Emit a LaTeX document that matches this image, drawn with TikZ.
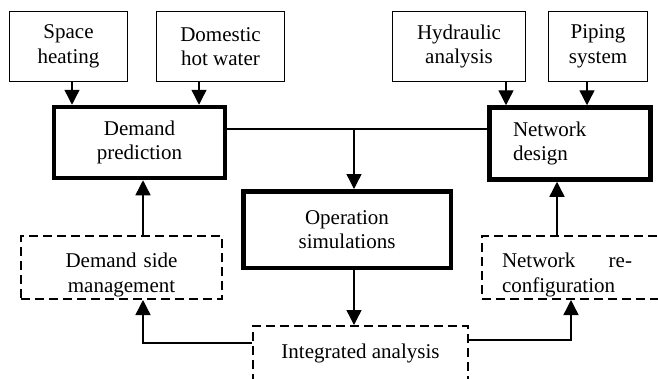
\documentclass[tikz,border=0pt]{standalone}
\usepackage{fontspec}
\setmainfont{Liberation Serif}
\usetikzlibrary{arrows.meta}

\begin{document}
\begin{tikzpicture}[
  x=1pt, y=-1pt,
  inbox/.style={draw, line width=1pt, inner sep=0pt, align=center,
                font=\fontsize{21}{24.5}\selectfont},
  mainbox/.style={draw, line width=4.5pt, inner sep=0pt, align=center,
                  font=\fontsize{21}{24.5}\selectfont},
  optbox/.style={draw, line width=2pt, dash pattern=on 9pt off 5pt, inner sep=0pt,
                 align=center, font=\fontsize{21}{24.5}\selectfont},
  arrow/.style={-{Triangle[length=15pt, width=15pt]}, line width=1.4pt},
  link/.style={line width=1.4pt}
]
\useasboundingbox (0,0) rectangle (658,378);

% Inputs
\node[inbox, minimum width=118pt, minimum height=70pt] (heat) at (68.5,46.5) {Space\\heating};
\node[inbox, minimum width=128pt, minimum height=70pt] (dhw) at (220.5,46.5) {Domestic\\hot water};
\node[inbox, minimum width=133pt, minimum height=70pt] (hyd) at (459,46.5) {Hydraulic\\analysis};
\node[inbox, minimum width=99pt, minimum height=70pt] (pipe) at (598,46.5) {Piping\\system};

% Main steps
\node[mainbox, minimum width=171pt, minimum height=71pt] (demand) at (139.5,142.5) {Demand\\prediction};
\node[mainbox, minimum width=161pt, minimum height=72pt, text width=114pt, align=left] (netdes) at (570,143.5) {Network\\design};
\node[mainbox, minimum width=207.5pt, minimum height=76.5pt] (opsim) at (347,229.5) {Operation\\simulations};

% Feedback steps
\node[optbox, minimum height=63pt, text width=201pt, text height=30pt] (dsm) at (121.5,267.5) {Demand side\\management};
\node[optbox, anchor=west, minimum height=63pt, text height=30pt, inner xsep=20pt, text width=170pt, align=left] (reconf) at (481,267.5)
  {\makebox[130pt][s]{Network\hfill re-}\\configuration};
\node[optbox, minimum width=215pt, minimum height=54pt] (integ) at (360.5,353) {Integrated analysis};

% Connectors
\coordinate (split) at (354,129);
\draw[arrow] ([xshift=3.5pt]heat.south) -- ([xshift=3.5pt]heat.south |- demand.north);
\draw[arrow] ([xshift=-21.5pt]dhw.south) -- ([xshift=-21.5pt]dhw.south |- demand.north);
\draw[arrow] ([xshift=47pt]hyd.south) -- ([xshift=47pt]hyd.south |- netdes.north);
\draw[arrow] ([xshift=-11pt]pipe.south) -- ([xshift=-11pt]pipe.south |- netdes.north);

\draw[link] (demand.east |- split) -- (netdes.west |- split);
\draw[arrow] (split) -- (split |- opsim.north);
\draw[arrow] (split |- opsim.south) -- (split |- integ.north);

\draw[arrow] ([xshift=21.5pt]dsm.north) -- ([xshift=21.5pt]dsm.north |- demand.south);
\draw[arrow] ([xshift=-30pt]reconf.north) -- ([xshift=-30pt]reconf.north |- netdes.south);
\draw[arrow] ([yshift=10pt]integ.west) -| ([xshift=21.5pt]dsm.south);
\draw[arrow] ([yshift=13pt]integ.east) -| ([xshift=-16pt]reconf.south);

\end{tikzpicture}
\end{document}
